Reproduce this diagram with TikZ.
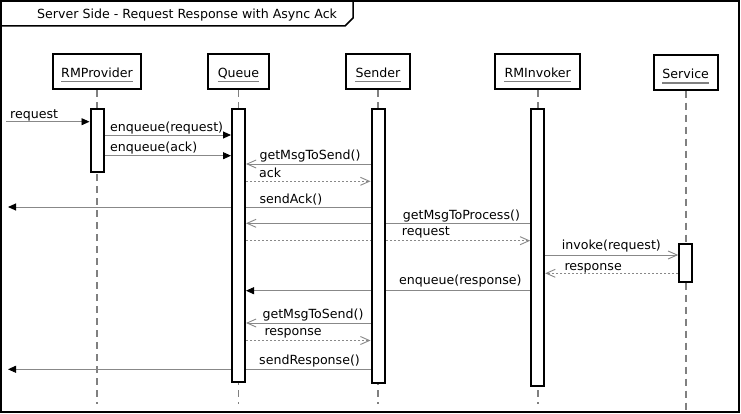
\documentclass[tikz,border=0pt]{standalone}
\usepackage{fontspec}
\setmainfont{DejaVu Sans}
\usetikzlibrary{arrows.meta,backgrounds}
\definecolor{ln}{HTML}{888888}
\definecolor{lf}{HTML}{808080}
\begin{document}
\begin{tikzpicture}[x=1pt,y=-1pt,
  font=\fontsize{12.6}{14}\selectfont,
  head/.style={draw=black,line width=2pt,fill=white,minimum height=34.7pt,inner sep=0pt},
  bar/.style={draw=black,line width=2pt,fill=white,minimum width=13pt,inner sep=0pt},
  nm/.style={anchor=base,inner sep=0pt},
  lbl/.style={anchor=base west,inner sep=0pt},
  uline/.style={draw=lf,line width=1.8pt},
  life/.style={draw=lf,line width=1.6pt,dash pattern=on 7pt off 5pt},
  call/.style={draw=ln,line width=0.9pt,-{Triangle[length=8pt,width=7pt,color=black,fill=black]}},
  async/.style={draw=ln,line width=0.9pt,-{Straight Barb[length=9pt,width=8pt]}},
  ret/.style={draw=ln,line width=0.9pt,dash pattern=on 2pt off 2pt,-{Straight Barb[length=9pt,width=8pt,sep=0pt]}},
]
\useasboundingbox (0,0) rectangle (741,414);
% frame
\draw[line width=2pt] (1,1) rectangle (739,412);
\draw[line width=1.5pt] (1,26) -- (345,26) -- (353,18) -- (353,1);
\node[lbl] (title) at (37,19) {Server Side - Request Response with Async Ack};

% heads
\node[head,minimum width=88.6pt] (hP) at (97,71.7) {};
\node[head,minimum width=60.6pt] (hQ) at (238.5,71.7) {};
\node[head,minimum width=63.7pt] (hS) at (378,71.7) {};
\node[head,minimum width=84.7pt] (hI) at (537.7,71.7) {};
\node[head,minimum width=63.6pt,minimum height=34.4pt] (hV) at (685.7,72.5) {};
\node[nm] (tP) at (97,77.3) {RMProvider};
\node[nm] (tQ) at (238.5,77.3) {Queue};
\node[nm] (tS) at (378,77.3) {Sender};
\node[nm] (tI) at (537.7,77.3) {RMInvoker};
\node[nm] (tV) at (685.7,78.5) {Service};
\foreach \t in {tP,tQ,tS,tI,tV}
  \draw[uline] ([yshift=-4.3pt]\t.base west) -- ([yshift=-4.3pt]\t.base east);

% activation bars
\node[bar,minimum height=63.6pt] (bP) at (97,140.5) {};
\node[bar,minimum height=272.4pt] (bQ) at (238.5,245.5) {};
\node[bar,minimum height=274.3pt] (bS) at (378,246.2) {};
\node[bar,minimum height=277.6pt] (bI) at (537.7,247.5) {};
\node[bar,minimum height=38.6pt] (bV) at (685.7,263) {};

% free ends
\coordinate (src) at (6,121.7);
\coordinate (ackOut) at (8,207);
\coordinate (respOut) at (8,369.3);
\coordinate (eP) at (97,404);
\coordinate (eQ) at (238.5,404);
\coordinate (eS) at (378,404);
\coordinate (eI) at (537.7,404);
\coordinate (eV) at (685.7,410);

\begin{scope}[on background layer]
\fill[white] (0,0) rectangle (741,414);
\draw[life] (hP.south) -- (eP);
\draw[life] (hQ.south) -- (eQ);
\draw[life] (hS.south) -- (eS);
\draw[life] (hI.south) -- (eI);
\draw[life] (hV.south) -- (eV);

\draw[call] (src) -- (bP.west |- src);
\draw[call] (bP.east |- 0,135) -- (bQ.west |- 0,135);
\draw[call] (bP.east |- 0,155.7) -- (bQ.west |- 0,155.7);
\draw[async] (bS.west |- 0,164) -- (bQ.east |- 0,164);
\draw[ret] (bQ.east |- 0,181.3) -- (bS.west |- 0,181.3);
\draw[call] (bS.west |- ackOut) -- (ackOut);
\draw[async] (bI.west |- 0,223.3) -- (bQ.east |- 0,223.3);
\draw[ret] (bQ.east |- 0,240.7) -- (bI.west |- 0,240.7);
\draw[async] (bI.east |- 0,255) -- (bV.west |- 0,255);
\draw[ret] (bV.west |- 0,273.3) -- (bI.east |- 0,273.3);
\draw[call] (bI.west |- 0,290.7) -- (bQ.east |- 0,290.7);
\draw[async] (bS.west |- 0,323) -- (bQ.east |- 0,323);
\draw[ret] (bQ.east |- 0,340.5) -- (bS.west |- 0,340.5);
\draw[call] (bS.west |- respOut) -- (respOut);
\end{scope}

% labels
\node[lbl] (m1) at (10,119) {request};
\node[lbl] (m2) at (110,132) {enqueue(request)};
\node[lbl] (m3) at (110,151.7) {enqueue(ack)};
\node[lbl] (m4) at (259.3,160) {getMsgToSend()};
\node[lbl] (m5) at (259,177.3) {ack};
\node[lbl] (m6) at (259.3,203.3) {sendAck()};
\node[lbl] (m7) at (402.7,219) {getMsgToProcess()};
\node[lbl] (m8) at (401.7,235.5) {request};
\node[lbl] (m9) at (561.7,249.5) {invoke(request)};
\node[lbl] (m10) at (564.3,270.5) {response};
\node[lbl] (m11) at (399,284.5) {enqueue(response)};
\node[lbl] (m12) at (262.3,318.3) {getMsgToSend()};
\node[lbl] (m13) at (264.3,335) {response};
\node[lbl] (m14) at (259,364) {sendResponse()};
\end{tikzpicture}
\end{document}
